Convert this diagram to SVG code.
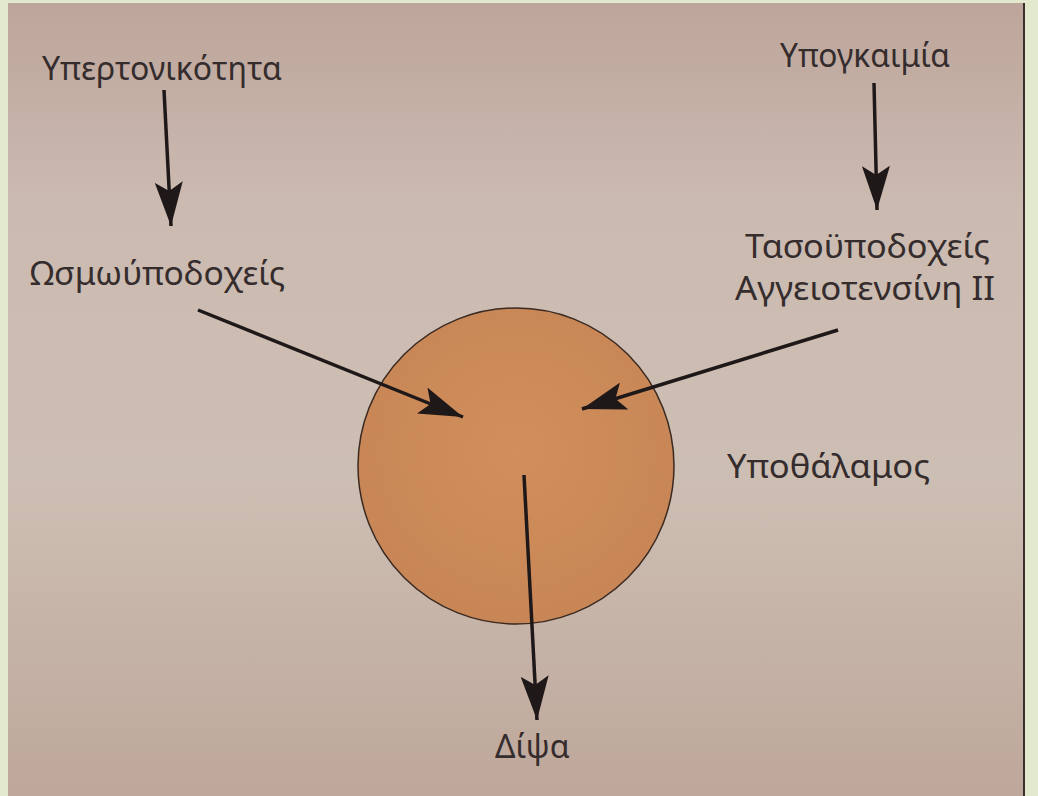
<svg xmlns="http://www.w3.org/2000/svg" width="1038" height="796" viewBox="0 0 1038 796">
<defs>
<linearGradient id="page" x1="0" y1="0" x2="0" y2="1">
<stop offset="0" stop-color="#bda59b"/>
<stop offset="0.25" stop-color="#cbbab0"/>
<stop offset="0.6" stop-color="#cdbeb3"/>
<stop offset="1" stop-color="#bea79b"/>
</linearGradient>
<radialGradient id="disc" cx="0.5" cy="0.45" r="0.55">
<stop offset="0" stop-color="#d08f5c"/>
<stop offset="1" stop-color="#c88656"/>
</radialGradient>
<marker id="ah" viewBox="0 0 44 28" refX="44" refY="14" markerWidth="44" markerHeight="28" markerUnits="userSpaceOnUse" orient="auto">
<path d="M0,0 L44,14 L0,28 L9,14 Z" fill="#1f1818"/>
</marker>
<style>
.t{font-family:"Noto Sans","DejaVu Sans",sans-serif;font-size:32px;fill:#352c2d;}
.c{stroke:#1f1818;stroke-width:3.5;fill:none;marker-end:url(#ah);}
</style>
</defs>
<rect width="1038" height="796" fill="#e2e9cd"/>
<rect x="8" y="3" width="1016" height="793" fill="url(#page)"/>
<line x1="1024" y1="3" x2="1024" y2="796" stroke="#3a2e2c" stroke-width="2"/>
<g id="hypothalamus">
<circle cx="516" cy="466" r="158" fill="url(#disc)" stroke="#3a2a22" stroke-width="1.5"/>
<text class="t" x="727" y="478" textLength="203" lengthAdjust="spacingAndGlyphs">Υποθάλαμος</text>
</g>
<g id="hypertonicity"><text class="t" x="42" y="80" textLength="240" lengthAdjust="spacingAndGlyphs">Υπερτονικότητα</text></g>
<g id="osmoreceptors"><text class="t" x="30" y="285" textLength="255" lengthAdjust="spacingAndGlyphs">Ωσμωύποδοχείς</text></g>
<g id="hypovolemia"><text class="t" x="780" y="67" textLength="170" lengthAdjust="spacingAndGlyphs">Υπογκαιμία</text></g>
<g id="baroreceptors">
<text class="t" x="745" y="258" textLength="245" lengthAdjust="spacingAndGlyphs">Τασοϋποδοχείς</text>
<text class="t" x="735" y="300" textLength="260" lengthAdjust="spacingAndGlyphs">Αγγειοτενσίνη ΙΙ</text>
</g>
<g id="thirst"><text class="t" x="495" y="758">Δίψα</text></g>
<g id="connectors">
<line class="c" x1="164" y1="90" x2="171" y2="226"/>
<line class="c" x1="874" y1="83" x2="877" y2="210"/>
<line class="c" x1="198" y1="310" x2="463" y2="417"/>
<line class="c" x1="838" y1="330" x2="582" y2="409"/>
<line class="c" x1="524" y1="475" x2="537" y2="720"/>
</g>
</svg>
